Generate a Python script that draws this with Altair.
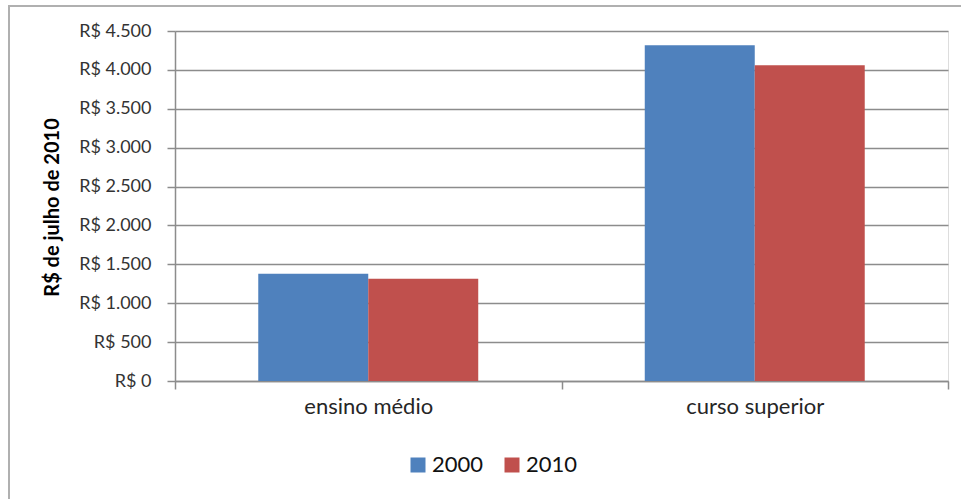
import altair as alt
import pandas as pd

categories = ["ensino médio", "ensino médio", "curso superior", "curso superior"]
years = ["2000", "2010", "2000", "2010"]
values = [1380, 1315, 4318, 4060]

df = pd.DataFrame({"nivel": categories, "ano": years, "valor": values})

FONT = "Lato"
GRID = "#8c8c8c"

frame = alt.Chart(pd.DataFrame({"a": [0]})).mark_rect(
    fill=None, stroke="#b0b0b0", strokeWidth=2
).encode(
    x=alt.value(-166), x2=alt.value(820), y=alt.value(-25), y2=alt.value(500)
)

bars = alt.Chart(df).mark_bar().encode(
    x=alt.X(
        "nivel:N",
        sort=["ensino médio", "curso superior"],
        title=None,
        scale=alt.Scale(paddingInner=0, paddingOuter=0),
        axis=alt.Axis(
            labelAngle=0, labelFontSize=22, labelFont=FONT, labelColor="#262626",
            tickBand="extent", tickSize=8, tickColor=GRID, tickWidth=1.5,
            domainColor=GRID, domainWidth=1.5, labelPadding=7, grid=False,
        ),
    ),
    xOffset=alt.XOffset(
        "ano:N", scale=alt.Scale(paddingInner=0, paddingOuter=0.757)
    ),
    y=alt.Y(
        "valor:Q",
        title="R$ de julho de 2010",
        scale=alt.Scale(domain=[0, 4500], nice=False),
        axis=alt.Axis(
            values=[0, 500, 1000, 1500, 2000, 2500, 3000, 3500, 4000, 4500],
            labelExpr="'R$ ' + replace(format(datum.value, ',d'), ',', '.')",
            labelFontSize=18, labelFont=FONT, labelColor="#333333", labelPadding=16,
            tickSize=8, tickColor=GRID, tickWidth=1.5,
            domainColor=GRID, domainWidth=1.5,
            gridColor=GRID, gridWidth=1.5,
            titleFont=FONT, titleFontSize=20, titleFontWeight="bold", titleColor="#000000",
            titleAngle=270, titleX=-123, titleY=176, titleAlign="center", titleBaseline="middle",
        ),
    ),
    color=alt.Color(
        "ano:N",
        scale=alt.Scale(domain=["2000", "2010"], range=["#4F81BD", "#C0504D"]),
        legend=alt.Legend(
            title=None, orient="none", direction="horizontal",
            legendX=232, legendY=423, symbolType="square", symbolSize=225,
            symbolStrokeWidth=0, labelFontSize=22, labelFont=FONT, labelColor="#111111",
            columnPadding=17, labelOffset=3,
        ),
    ),
)

chart = alt.layer(frame, bars).properties(
    width=773, height=350,
    autosize=alt.AutoSizeParams(type="none"),
    padding={"left": 175, "top": 31, "right": 13, "bottom": 118},
).configure_view(stroke=None).configure(background="white")

chart.save("out.html", embed_options={"renderer": "svg", "actions": False})
